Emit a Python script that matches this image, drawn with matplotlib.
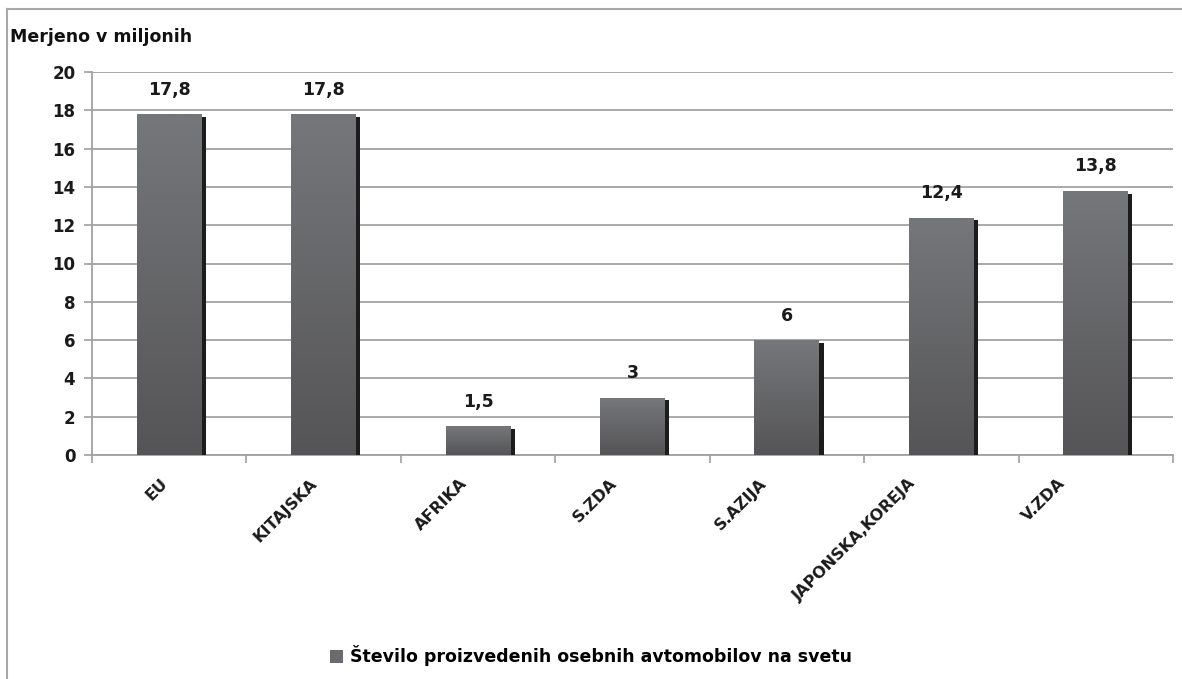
import numpy as np
import matplotlib
matplotlib.use("Agg")
import matplotlib.pyplot as plt
import matplotlib.patheffects as pe
import matplotlib.transforms as mtransforms
from matplotlib.lines import Line2D
from matplotlib.patches import Rectangle
from matplotlib import font_manager

# Data
categories = ["EU", "KITAJSKA", "AFRIKA", "S.ZDA", "S.AZIJA", "JAPONSKA,KOREJA", "V.ZDA"]
values = [17.8, 17.8, 1.5, 3, 6, 12.4, 13.8]
series_name = "Število proizvedenih osebnih avtomobilov na svetu"
y_title = "Merjeno v miljonih"
y_ticks = list(range(0, 21, 2))

available = {f.name for f in font_manager.fontManager.ttflist}
family = [f for f in ["Liberation Sans Narrow", "DejaVu Sans Condensed", "DejaVu Sans"] if f in available]
plt.rcParams["font.family"] = family
plt.rcParams["font.weight"] = "bold"

W, H = 1182, 679
fig = plt.figure(figsize=(W / 100, H / 100), dpi=100)
fig.patch.set_facecolor("white")

ax = fig.add_axes([92 / W, 1 - 455 / H, (1173 - 92) / W, (455 - 72) / H])

x = np.arange(len(categories))
bar_w = 0.42
bars = ax.bar(x, values, width=bar_w, color="#66676a", zorder=3,
              path_effects=[pe.SimplePatchShadow(offset=(3, -2), shadow_rgbFace="#1c1c1c", alpha=1.0), pe.Normal()])

# vertical gradient inside each bar: lighter at top, darker at base
grad = np.linspace(0, 1, 256).reshape(-1, 1)
cmap = matplotlib.colors.LinearSegmentedColormap.from_list("g", ["#555557", "#76777a"])
for b in bars:
    x0, y0 = b.get_x(), b.get_y()
    w, h = b.get_width(), b.get_height()
    im = ax.imshow(grad, cmap=cmap, aspect="auto", origin="lower",
                   extent=(x0, x0 + w, y0, y0 + h), zorder=4)
    im.set_clip_path(b)

for xi, v in zip(x, values):
    txt = f"{v:g}".replace(".", ",")
    ax.annotate(txt, (xi, v), xytext=(0, 11), textcoords="offset points",
                ha="center", va="bottom", fontsize=12.5, fontweight="bold", color="#1a1a1a", zorder=5)

ax.set_xlim(-0.5, len(categories) - 0.5)
ax.set_ylim(0, 20)
ax.set_yticks(y_ticks)
ax.set_xticks(np.arange(len(categories) + 1) - 0.5, minor=True)
ax.set_xticks(x)
ax.set_xticklabels(categories, rotation=45, ha="right", rotation_mode="anchor",
                   fontsize=11.5, fontweight="bold", color="#1a1a1a")
ax.tick_params(axis="x", which="major", length=0, pad=15)
ax.tick_params(axis="x", which="minor", length=6, width=1.2, color="#a0a0a0")
ax.tick_params(axis="y", length=6, width=1.2, color="#a0a0a0", labelsize=12, labelcolor="#1a1a1a", pad=6)
for lab in ax.get_yticklabels():
    lab.set_fontweight("bold")

# rotated category labels sit a little left of their bars, drifting further left across the axis
for i, lab in enumerate(ax.get_xticklabels()):
    shift = mtransforms.ScaledTranslation(-(9 + 4.8 * i) / 100, 0, fig.dpi_scale_trans)
    lab.set_transform(lab.get_transform() + shift)

ax.grid(axis="y", color="#a3a3a3", linewidth=1.3, zorder=0)
ax.set_axisbelow(True)
for s in ["top", "right"]:
    ax.spines[s].set_visible(False)
for s in ["left", "bottom"]:
    ax.spines[s].set_color("#a0a0a0")
    ax.spines[s].set_linewidth(1.3)

fig.text(10 / W, 1 - 37 / H, y_title, ha="left", va="center", fontsize=12.5, fontweight="bold", color="#111111")

# legend
handle = Rectangle((0, 0), 1, 1, facecolor="#6a6b6e", edgecolor="none")
fig.legend([handle], [series_name], loc="center", bbox_to_anchor=(0.5, 1 - 656 / H),
           frameon=False, handlelength=0.7, handleheight=0.7, handletextpad=0.4,
           prop={"weight": "bold", "size": 12.5, "family": family})

# outer frame lines
fig.add_artist(Line2D([7 / W, 1.0], [1 - 9 / H, 1 - 9 / H], color="#a8a8a8", linewidth=1.5, transform=fig.transFigure))
fig.add_artist(Line2D([7 / W, 7 / W], [0, 1 - 9 / H], color="#a8a8a8", linewidth=1.5, transform=fig.transFigure))

fig.savefig("out.png", dpi=100, facecolor="white")
